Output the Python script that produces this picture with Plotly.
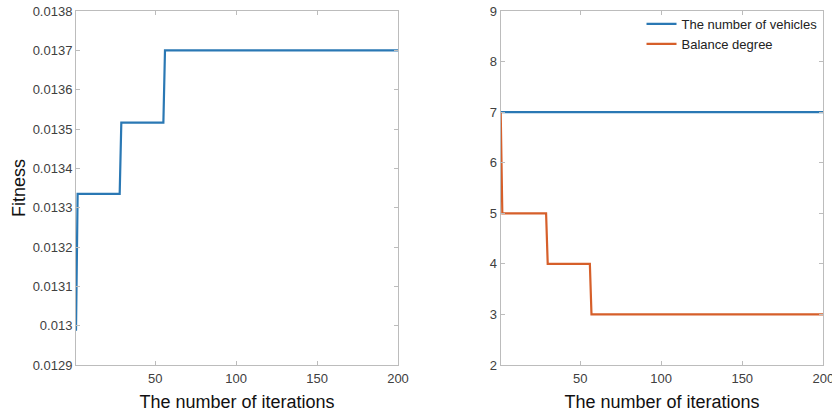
import plotly.graph_objects as go

# Left panel: fitness convergence (breakpoints of the step curve)
fit_iter = [1, 2, 28, 29, 55, 56, 200]
fit_vals = [0.012987, 0.013335, 0.013335, 0.013516, 0.013516, 0.0137, 0.0137]

# Right panel
veh_iter = [1, 200]
veh_vals = [7, 7]
bal_iter = [1, 2, 29, 30, 56, 57, 200]
bal_vals = [7, 5, 5, 4, 4, 3, 3]

x_ticks = [50, 100, 150, 200]
fit_ticks = [0.0129, 0.0130, 0.0131, 0.0132, 0.0133, 0.0134, 0.0135, 0.0136, 0.0137, 0.0138]
fit_ticklabels = ["0.0129", "0.013", "0.0131", "0.0132", "0.0133", "0.0134", "0.0135", "0.0136", "0.0137", "0.0138"]
right_ticks = [2, 3, 4, 5, 6, 7, 8, 9]

BLUE = "#2a78b4"
ORANGE = "#d65f2a"
AX = "#bcbcbc"
TICKFONT = dict(family="Liberation Sans, Arial, sans-serif", size=13, color="#404040")
TITLEFONT = dict(family="Liberation Sans, Arial, sans-serif", size=18, color="#111111")

W, H = 832, 417

fig = go.Figure()
fig.add_trace(go.Scatter(x=fit_iter, y=fit_vals, mode="lines", line=dict(color=BLUE, width=2.2),
                         showlegend=False, xaxis="x", yaxis="y"))
fig.add_trace(go.Scatter(x=veh_iter, y=veh_vals, mode="lines", line=dict(color=BLUE, width=2.2),
                         name="The number of vehicles", xaxis="x2", yaxis="y2"))
fig.add_trace(go.Scatter(x=bal_iter, y=bal_vals, mode="lines", line=dict(color=ORANGE, width=2.2),
                         name="Balance degree", xaxis="x2", yaxis="y2"))

common = dict(showgrid=False, zeroline=False, showline=True, linecolor=AX, linewidth=1,
              mirror="allticks", ticks="inside", ticklen=4, tickcolor=AX, tickfont=TICKFONT,
              automargin=False, ticklabeloverflow="allow")

fig.update_layout(
    width=W, height=H,
    margin=dict(l=0, r=0, t=11, b=52, autoexpand=False),
    paper_bgcolor="white", plot_bgcolor="white",
    xaxis=dict(domain=[76 / W, 398 / W], range=[1, 200], tickvals=x_ticks, anchor="y",
               ticklabelstandoff=1,
               title=dict(text="The number of iterations", font=TITLEFONT, standoff=10), **common),
    yaxis=dict(domain=[0, 1], range=[0.0129, 0.0138], tickvals=fit_ticks, ticktext=fit_ticklabels,
               anchor="x", title=dict(text="Fitness", font=TITLEFONT, standoff=2), **common),
    xaxis2=dict(domain=[500.7 / W, 823.3 / W], range=[1, 200], tickvals=x_ticks, anchor="y2",
                ticklabelstandoff=1,
                title=dict(text="The number of iterations", font=TITLEFONT, standoff=10), **common),
    yaxis2=dict(domain=[0, 1], range=[2, 9], tickvals=right_ticks, anchor="x2", **common),
    legend=dict(x=0.9886, xanchor="right", y=1.0056, yanchor="top", bgcolor="rgba(0,0,0,0)",
                font=dict(family="Liberation Sans, Arial, sans-serif", size=13, color="#222222"),
                tracegroupgap=0, itemwidth=30),
)

fig.write_html("out.html", config={"displayModeBar": False},
               post_script="document.body.style.margin='0';")
